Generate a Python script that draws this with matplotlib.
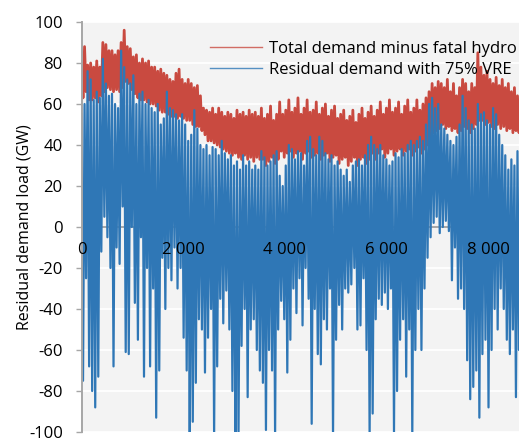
import numpy as np
import matplotlib
matplotlib.use("Agg")
import matplotlib.pyplot as plt
from matplotlib.lines import Line2D

plt.rcParams["font.family"] = ["Open Sans", "DejaVu Sans"]
plt.rcParams["font.size"] = 12

# Hourly load profile summarised as alternating highs/lows every 30 hours (GW)
STEP_HOURS = 30

red_peaks = [
    80, 88, 79, 80, 78, 81, 78, 90, 89, 86,
    86, 84, 86, 90, 96, 88, 87, 83, 84, 80,
    82, 80, 81, 78, 78, 76, 77, 75, 74, 72,
    71, 75, 77, 72, 70, 72, 70, 68, 69, 64,
    58, 57, 56, 58, 55, 58, 56, 54, 56, 55,
    53, 57, 55, 56, 54, 57, 55, 56, 54,
    58, 53, 55, 59, 52, 55,
    61, 55, 57, 62, 56, 58, 63, 55, 58, 62, 56, 57, 61, 55,
    58, 60, 54, 57, 59, 53,
    55, 57, 52, 54, 57, 51, 55, 58, 53, 56,
    59, 54, 57, 61, 55, 58, 62, 56, 58, 61, 55, 59, 62, 56, 58, 62, 57, 60, 63,
    66, 70, 68, 71,
    70, 68, 72, 66, 70, 64, 68, 72, 70, 66, 70, 68,
    85,
    78, 74, 76, 72, 70, 73, 69, 72, 68, 70, 66, 68, 64,
    65, 63,
]
red_troughs = [
    63, 66, 62, 62, 63, 61, 64, 66, 68, 67,
    66, 67, 66, 68, 71, 70, 67, 65, 63, 62,
    62, 61, 60, 60, 59, 57, 56, 56, 55, 54,
    54, 53, 54, 53, 52, 52, 50, 49, 49, 47,
    45, 42, 42, 41, 40, 39, 38, 37, 36, 35,
    36, 34, 33, 35, 33, 34, 32, 34, 33,
    33, 30, 32, 34, 31, 33,
    37, 34, 36, 37, 34, 36, 37, 33, 36, 37, 34, 35, 36, 33,
    35, 36, 32, 34, 35, 31,
    33, 34, 30, 32, 34, 30, 33, 34, 31, 33,
    36, 33, 36, 38, 34, 36, 38, 35, 37, 38, 35, 37, 38, 35, 37, 39, 36, 38, 40,
    44, 46, 47, 48,
    50, 48, 49, 47, 48, 46, 47, 49, 48, 46, 48, 50,
    52,
    52, 50, 51, 49, 48, 50, 48, 49, 47, 48, 46, 47, 46,
    46, 45,
]

blue_peaks = [
    55, 60, 76, 72, 62, 66, 63, 82, 70, 64,
    65, 60, 58, 86, 78, 72, 70, 74, 60, 65,
    66, 60, 62, 58, 56, 60, 50, 53, 66, 58,
    57, 55, 52, 55, 50, 42, 45, 57, 48, 40,
    38, 40, 35, 39, 38, 35, 42, 36, 33, 35,
    30, 32, 28, 35, 30, 32, 28, 30, 28, 37,
    34, 30, 32, 35, 37, 25, 20, 30, 40, 38,
    33, 37, 36, 30, 42, 44, 38, 35, 44, 42,
    36, 33, 35, 30, 32, 28, 25, 28, 22, 30,
    32, 33, 30, 35, 40, 44, 40, 38, 40, 35,
    33, 30, 32, 36, 34, 38, 36, 40, 42, 40,
    42, 44, 42, 50, 60, 63, 58, 60, 50, 48,
    45, 42, 40, 44, 50, 64, 58, 52, 50, 48,
    60, 55, 56, 52, 50, 58, 55, 45, 40, 35,
    28, 33, 30, 37, 35, 32,
]
blue_troughs = [
    -75, -25, -68, -80, -88, -73, -12, 5, -5, -20,
    -68, -10, -18, 10, -61, -62, 0, -37, -55, -5,
    -73, -20, -68, -30, -93, -70, -15, -40, -20, -26,
    -10, -30, -20, -54, -70, -104, -95, -76, -45, -50,
    -71, -54, -40, -102, -68, -35, -47, -31, -50, -80,
    -104, -102, -58, -40, -83, -50, -45, -60, -70, -76,
    -99, -60, -70, -102, -50, -36, -45, -71, -55, -30,
    -42, -25, -48, -20, -35, -96, -40, -62, -67, -45,
    -50, -30, -102, -55, -38, -50, -30, -32, -28, -20,
    -50, -48, -25, -60, -102, -91, -45, -35, -38, -32,
    -40, -30, -100, -80, -55, -45, -73, -50, -102, -60,
    -40, -60, -30, -15, -5, 2, 5, -3, 0, 3,
    -2, -26, -10, -35, -30, -40, -65, -84, -78, -70,
    -93, -62, -55, -88, -60, -40, -50, -30, -40, -55,
    -62, -50, -83, -60, -40, -50,
]

red_label = "Total demand minus fatal hydro"
blue_label = "Residual demand with 75% VRE"

y_ticks = [-100, -80, -60, -40, -20, 0, 20, 40, 60, 80, 100]
y_tick_labels = ["-100", "-80", "-60", "-40", "-20", "0", "20", "40", "60", "80", "100"]
x_ticks = [0, 2000, 4000, 6000, 8000]
x_tick_labels = ["0", "2 000", "4 000", "6 000", "8 000"]


def interleave(highs, lows):
    out = np.empty(2 * len(highs))
    out[0::2] = highs
    out[1::2] = lows
    return out


red = interleave(red_peaks, red_troughs)
blue = interleave(blue_peaks, blue_troughs)
hours = np.arange(len(red)) * STEP_HOURS

RED = "#c94a40"
BLUE = "#2f77b6"
AXIS_GREY = "#a6a6a6"

fig = plt.figure(figsize=(5.19, 4.38), dpi=100)
ax = fig.add_axes([81.5 / 519, 6 / 438, 437.5 / 519, 410 / 438])
ax.set_facecolor("#f3f3f3")

ax.plot(hours, red, color=RED, lw=2.0, zorder=2)
ax.plot(hours, blue, color=BLUE, lw=1.6, zorder=2.2)

ax.set_xlim(0, 8610)
ax.set_ylim(-100, 100)

ax.set_yticks(y_ticks)
ax.set_yticklabels(y_tick_labels)
ax.set_xticks(x_ticks)
ax.set_xticklabels(x_tick_labels)

ax.grid(axis="y", color="white", lw=1.3)
ax.grid(axis="x", visible=False)

for side in ("top", "right"):
    ax.spines[side].set_visible(False)
ax.spines["left"].set_color(AXIS_GREY)
ax.spines["left"].set_linewidth(1.4)
ax.spines["bottom"].set_position(("data", 0))
ax.spines["bottom"].set_color(AXIS_GREY)
ax.spines["bottom"].set_linewidth(1.4)
ax.spines["bottom"].set_zorder(1.8)

ax.tick_params(axis="y", length=4.5, width=1, color=AXIS_GREY, pad=9, labelcolor="black")
ax.tick_params(axis="x", length=0, pad=10.5, labelcolor="black")
ax.xaxis.set_zorder(5)

ax.set_ylabel("Residual demand load (GW)", fontsize=11.5)
ax.yaxis.set_label_coords(-0.111, 0.5)

handles = [
    Line2D([], [], color=RED, lw=1.0, alpha=0.8),
    Line2D([], [], color=BLUE, lw=1.0, alpha=0.8),
]
ax.legend(handles, [red_label, blue_label], loc="upper left",
          bbox_to_anchor=(210 / 519, 1 - 41 / 438),
          bbox_transform=fig.transFigure, frameon=False, borderpad=0,
          borderaxespad=0, handlelength=3.1, handletextpad=0.45,
          labelspacing=0.3)

fig.savefig("out.png", dpi=100)
